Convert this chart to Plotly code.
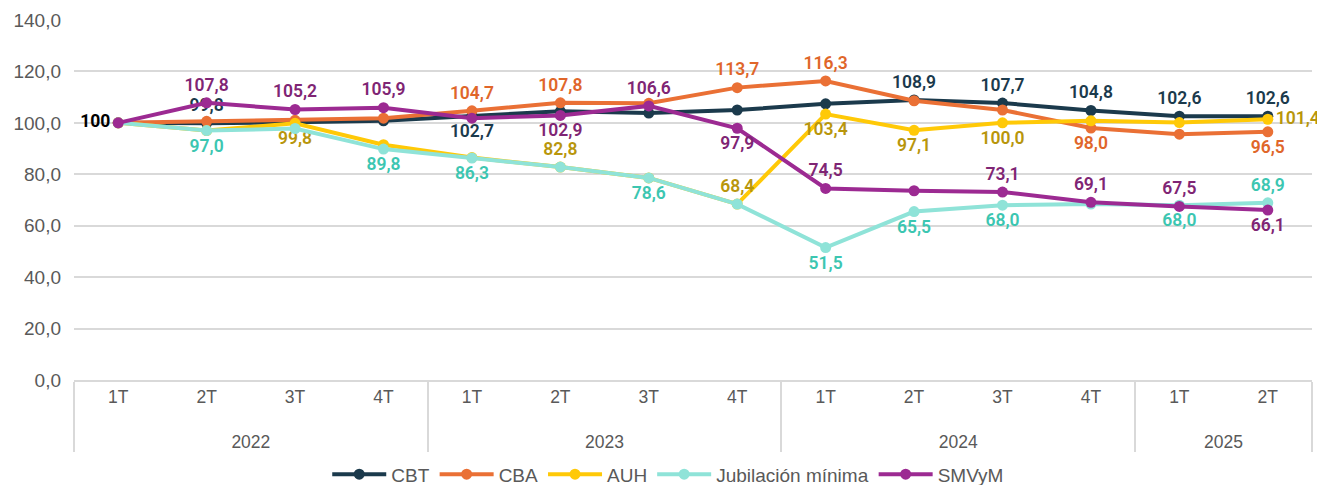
import plotly.graph_objects as go

years = ["2022"]*4 + ["2023"]*4 + ["2024"]*4 + ["2025"]*2
quarters = ["1T", "2T", "3T", "4T"]*3 + ["1T", "2T"]

cbt = [100, 99.8, 100.2, 100.8, 102.7, 104.5, 103.8, 105.0, 107.4, 108.9, 107.7, 104.8, 102.6, 102.6]
cba = [100, 100.6, 101.0, 101.8, 104.7, 107.8, 107.6, 113.7, 116.3, 108.6, 105.0, 98.0, 95.6, 96.5]
auh = [100, 97.0, 99.8, 91.5, 86.5, 82.8, 78.6, 68.4, 103.4, 97.1, 100.0, 100.8, 100.1, 101.4]
jub = [100, 97.0, 97.8, 89.8, 86.3, 82.8, 78.6, 68.4, 51.5, 65.5, 68.0, 68.4, 68.0, 68.9]
smv = [100, 107.8, 105.2, 105.9, 101.8, 102.9, 106.6, 97.9, 74.5, 73.6, 73.1, 69.1, 67.5, 66.1]

# which points carry a data label, and where
cbt_lab = ["L", "T", "", "", "B", "", "", "", "", "T", "T", "T", "T", "T"]
cba_lab = ["", "", "", "", "T", "T", "", "T", "T", "", "", "B", "", "B"]
auh_lab = ["", "", "B", "", "", "T", "", "T", "B", "B", "B", "", "", "R"]
jub_lab = ["", "B", "", "B", "B", "", "B", "", "B", "B", "B", "", "B", "T"]
smv_lab = ["", "T", "T", "T", "", "B", "T", "B", "T", "", "T", "T", "T", "B"]

pos_map = {"T": "top center", "B": "bottom center", "L": "middle left", "R": "middle right", "": "top center"}

series = [
    ("CBT", cbt, cbt_lab, "#1B3A4C", "#1B3A4C"),
    ("CBA", cba, cba_lab, "#EA7035", "#E0662A"),
    ("AUH", auh, auh_lab, "#FFC907", "#B8960C"),
    ("Jubilación mínima", jub, jub_lab, "#8FE3D8", "#3CC6B1"),
    ("SMVyM", smv, smv_lab, "#9C2A92", "#7F2574"),
]

def fmt(v):
    return f"{v:.1f}".replace(".", ",")

# page body has an 8px default margin; the figure is sized to compensate
W, H = 1317, 477

fig = go.Figure()
x = [["<br>" + y for y in years], quarters]
for name, vals, labs, lc, tc in series:
    texts, poss, cols = [], [], []
    for i, (v, l) in enumerate(zip(vals, labs)):
        if l == "L":
            texts.append("<b>100</b>")
            cols.append("#000000")
        elif l:
            texts.append(fmt(v))
            cols.append(tc)
        else:
            texts.append("")
            cols.append(tc)
        poss.append(pos_map[l])
    fig.add_trace(go.Scatter(
        x=x, y=vals, name=name, mode="lines+markers+text",
        line=dict(color=lc, width=4),
        marker=dict(color=lc, size=11),
        text=texts, textposition=poss,
        textfont=dict(family="Roboto", size=17.5, color=cols, weight=600),
        cliponaxis=False,
    ))

tick_font = dict(family="Liberation Sans, Arial, Roboto", size=18, color="#595959")

fig.update_layout(
    width=W, height=H,
    margin=dict(l=66, r=13, t=12, b=105, autoexpand=False),
    plot_bgcolor="white", paper_bgcolor="white",
    separators=",.",
    showlegend=True,
    legend=dict(orientation="h", x=0.48, xanchor="center", y=-0.262, yanchor="middle",
                font=dict(tick_font, size=19), traceorder="normal", itemwidth=54),
    xaxis=dict(type="multicategory", showgrid=False, showline=True, linecolor="#D9D9D9",
               linewidth=1.5, tickfont=dict(tick_font, size=17.5), showdividers=True,
               dividercolor="#D9D9D9", dividerwidth=1.5, ticks="", automargin=False,
               range=[-0.5, 13.5]),
    yaxis=dict(range=[0, 140], dtick=20, tickformat=".1f", showgrid=True, gridcolor="#D9D9D9",
               gridwidth=1.5, zeroline=False, tickfont=dict(tick_font, size=19), showline=False,
               automargin=False, ticklabelstandoff=12),
)

fig.write_html("out.html")
